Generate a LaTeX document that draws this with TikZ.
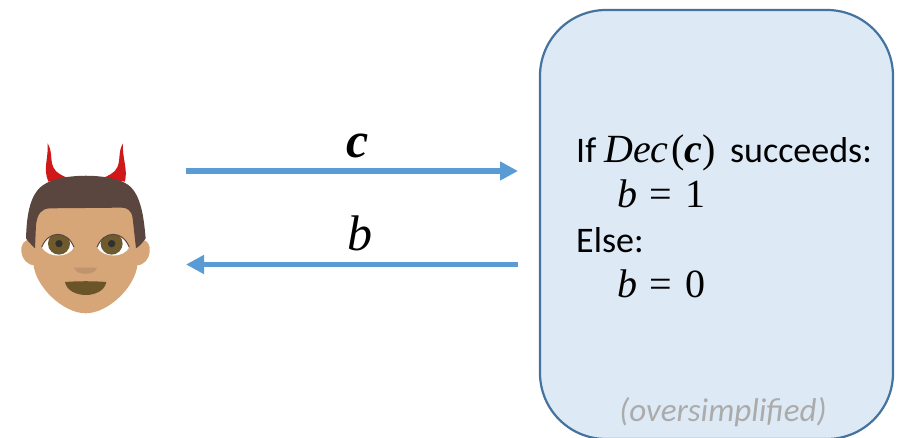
\documentclass[tikz,border=0pt]{standalone}
\usepackage{fontspec}
\setmainfont{Carlito}
\newfontfamily\mathf{Liberation Serif}
\usetikzlibrary{arrows.meta}
\definecolor{boxfill}{HTML}{DEE9F6}
\definecolor{boxline}{HTML}{44739F}
\definecolor{arrowc}{HTML}{5B9BD5}
\definecolor{skin}{HTML}{D7A678}
\definecolor{hair}{HTML}{5A463E}
\definecolor{mouth}{HTML}{6A5428}
\definecolor{nosec}{HTML}{C0946E}
\definecolor{horn}{HTML}{D01818}
\definecolor{iris}{HTML}{6F5A2E}
\definecolor{pupil}{HTML}{32302C}
\definecolor{greyt}{HTML}{ABABAB}
\tikzset{
  x=1pt,y=-1pt,
  flow/.style={line width=5.5pt,arrowc,-{Triangle[length=18pt,width=18pt]}},
  body/.style={font=\fontsize{36}{36}\selectfont,anchor=base west,inner sep=0pt,text=black},
  lab/.style={anchor=base,inner sep=0pt,text=black},
  dec/.style={draw=boxline,line width=2.2pt,fill=boxfill,rounded corners=66pt,minimum width=353pt,minimum height=429pt,inner sep=0pt},
  note/.style={font=\fontsize{33}{33}\selectfont\itshape,text=greyt,anchor=base,inner sep=0pt},
}
\newcommand{\vi}[1]{{\fontsize{40}{40}\selectfont\mathf\itshape #1}}
\newcommand{\vb}[1]{{\fontsize{40}{40}\selectfont\mathf\itshape\bfseries #1}}
\newcommand{\vr}[1]{{\fontsize{40}{40}\selectfont\mathf #1}}
\begin{document}
\begin{tikzpicture}
\useasboundingbox (0,0) rectangle (897,438);
\node[dec] (box) at (716.5,224.5) {};
\coordinate (c1) at (186,171);
\coordinate (c2) at (518,171);
\coordinate (b1) at (518,264.5);
\coordinate (b2) at (186,264.5);
\draw[flow] (c1) -- (c2);
\draw[flow] (b1) -- (b2);
\node[lab,font=\fontsize{50}{50}\selectfont\mathf\itshape\bfseries] (lc) at (358,157.5) {c};
\node[lab,font=\fontsize{50}{50}\selectfont\mathf\itshape] (lb) at (360,250.5) {b};
\node[body] (t1) at (576,163) {If\hspace{8pt}\vi{Dec}\hspace{3pt}\vr{(}\vb{c}\vr{)}\hspace{14pt}succeeds:};
\node[body] (t2) at (617,208) {\vi{b}\hspace{12pt}\vr{=}\hspace{14pt}\vr{1}};
\node[body] (t3) at (576,253) {Else:};
\node[body] (t4) at (617,298) {\vi{b}\hspace{12pt}\vr{=}\hspace{14pt}\vr{0}};
\node[note] (t5) at (723,421) {(oversimplified)};
\begin{scope}[shift={(0,130)},x=0.3333pt,y=-0.3333pt]
  % horns
  \fill[horn] (143,40) .. controls (158,65) and (150,90) .. (160,112) .. controls (168,130) and (190,138) .. (205,145) -- (145,155) .. controls (128,115) and (146,85) .. (143,40) -- cycle;
  \fill[horn] (369,40) .. controls (354,65) and (362,90) .. (352,112) .. controls (344,130) and (322,138) .. (307,145) -- (375,155) .. controls (384,115) and (366,85) .. (369,40) -- cycle;
  % ears
  \fill[skin] (92,330) .. controls (50,325) and (55,405) .. (105,406) -- (120,380) -- cycle;
  \fill[skin] (424,330) .. controls (462,325) and (458,405) .. (410,406) -- (395,380) -- cycle;
  % face
  \fill[skin] (100,220) -- (413,220) -- (413,400) .. controls (408,470) and (325,550) .. (257,550) .. controls (190,550) and (105,470) .. (100,400) -- cycle;
  % hair
  \fill[hair] (105,355) .. controls (95,345) and (82,332) .. (78,325) .. controls (80,270) and (85,195) .. (130,165) .. controls (180,128) and (335,128) .. (385,165) .. controls (425,195) and (432,270) .. (437,325) .. controls (430,335) and (420,348) .. (408,355) -- (398,265) .. controls (395,240) and (380,233) .. (365,233) -- (150,235) .. controls (125,236) and (112,250) .. (108,285) -- cycle;
  % eyes
  \fill[white] (125,352) .. controls (145,300) and (202,300) .. (222,352) .. controls (205,385) and (145,385) .. (125,352) -- cycle;
  \fill[white] (291,352) .. controls (311,300) and (368,300) .. (388,352) .. controls (371,385) and (311,385) .. (291,352) -- cycle;
  \begin{scope}
    \clip (125,352) .. controls (145,300) and (202,300) .. (222,352) .. controls (205,385) and (145,385) .. (125,352) -- cycle;
    \fill[iris] (177,341) circle[radius=33];
  \end{scope}
  \begin{scope}
    \clip (291,352) .. controls (311,300) and (368,300) .. (388,352) .. controls (371,385) and (311,385) .. (291,352) -- cycle;
    \fill[iris] (335,341) circle[radius=33];
  \end{scope}
  \fill[pupil] (177,341) circle[radius=11];
  \fill[pupil] (335,341) circle[radius=11];
  \draw[hair,line width=1pt] (125,352) .. controls (145,300) and (202,300) .. (222,352);
  \draw[hair,line width=1pt] (291,352) .. controls (311,300) and (368,300) .. (388,352);
  % nose
  \fill[nosec] (222,413) -- (291,413) .. controls (285,438) and (228,438) .. (222,413) -- cycle;
  % mouth
  \fill[mouth] (195,456) .. controls (235,453) and (280,453) .. (319,456) .. controls (310,508) and (205,508) .. (195,456) -- cycle;
\end{scope}
\end{tikzpicture}
\end{document}
